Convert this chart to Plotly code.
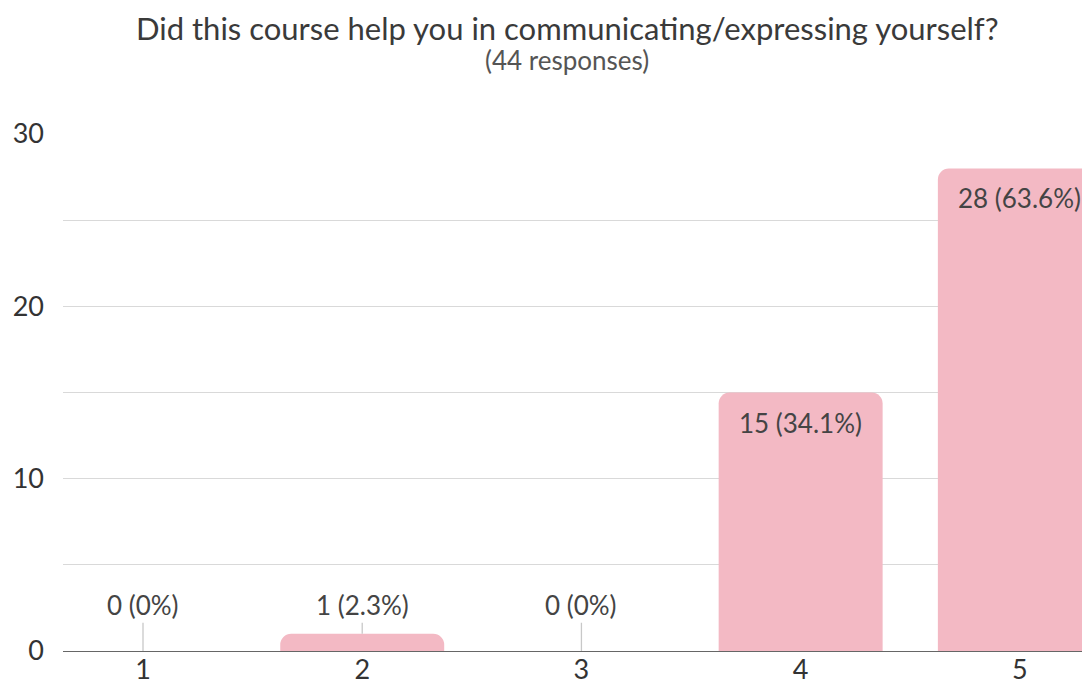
import plotly.graph_objects as go

categories = [1, 2, 3, 4, 5]
counts = [0, 1, 0, 15, 28]
labels = ["0 (0%)", "1 (2.3%)", "0 (0%)", "15 (34.1%)", "28 (63.6%)"]
y_tickvals = [0, 5, 10, 15, 20, 25, 30]
y_ticktext = ["0", "", "10", "", "20", "", "30"]
x_ticktext = ["1", "2", "3", "4", "5"]

BAR = "#F3B9C4"
FONT = "Lato, 'Open Sans', sans-serif"
LABEL_SIZE = 26

fig = go.Figure()
fig.add_trace(go.Bar(
    x=categories, y=counts, width=0.748,
    marker=dict(color=BAR, line=dict(width=0)),
    hoverinfo="skip",
))

annotations = []
for c, v, t in zip(categories, counts, labels):
    if v >= 5:
        annotations.append(dict(
            x=c, y=v, xref="x", yref="y", text=t, showarrow=False,
            yshift=-30, font=dict(size=LABEL_SIZE, color="#444", family=FONT),
        ))
    else:
        annotations.append(dict(
            x=c, y=v, xref="x", yref="y", text=t, showarrow=True,
            axref="x", ayref="y", ax=c, ay=2.65,
            arrowhead=0, arrowwidth=1.3, arrowcolor="#c8c8c8",
            font=dict(size=LABEL_SIZE, color="#444", family=FONT),
        ))

annotations.append(dict(
    x=0.4908, y=1, xref="paper", yref="paper", yanchor="middle", yshift=106,
    text="Did this course help you in communicating/expressing yourself?",
    showarrow=False, font=dict(size=31, color="#3a3a3a", family=FONT),
))
annotations.append(dict(
    x=0.4908, y=1, xref="paper", yref="paper", yanchor="middle", yshift=74,
    text="(44 responses)",
    showarrow=False, font=dict(size=26, color="#555", family=FONT),
))

fig.update_layout(
    width=1082, height=676,
    margin=dict(l=55, r=0, t=126, b=33),
    paper_bgcolor="white", plot_bgcolor="white",
    showlegend=False,
    barcornerradius=11,
    annotations=annotations,
    xaxis=dict(
        range=[0.635, 5.32], tickvals=categories, ticktext=x_ticktext,
        showgrid=False, zeroline=False, showline=False, ticks="",
        ticklabelstandoff=0,
        tickfont=dict(size=27, color="#333", family=FONT),
        fixedrange=True,
    ),
    yaxis=dict(
        range=[0, 30], tickvals=y_tickvals, ticktext=y_ticktext,
        showgrid=True, gridcolor="#d9d9d9", gridwidth=1,
        zeroline=True, zerolinecolor="#666", zerolinewidth=1.3,
        showline=False, ticks="", ticklabelstandoff=18,
        tickfont=dict(size=27, color="#333", family=FONT),
        fixedrange=True,
    ),
)

fig.write_html("out.html")
